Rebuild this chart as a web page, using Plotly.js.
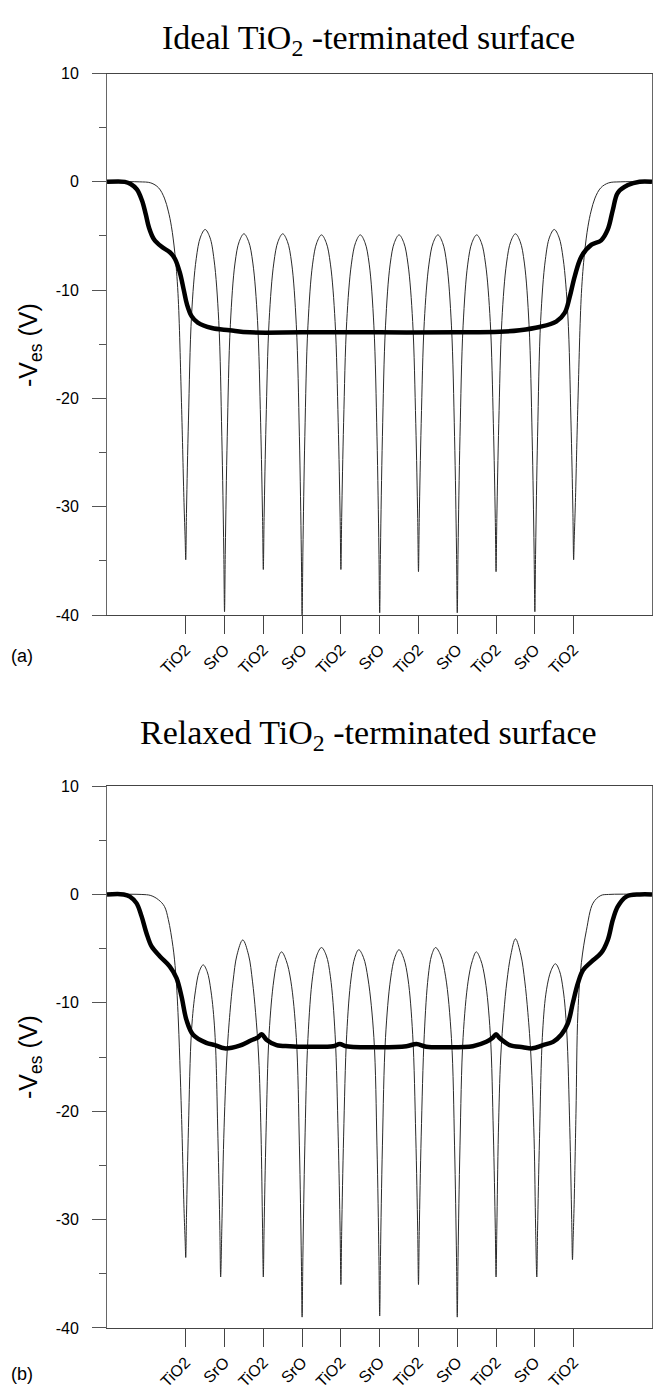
<!DOCTYPE html>
<html>
<head>
<meta charset="utf-8">
<script src="https://cdn.plot.ly/plotly-3.0.1.min.js"></script>
<style>html,body{margin:0;padding:0;background:#fff;}</style>
</head>
<body>
<div id="chart" style="width:663px;height:1393px;"></div>
<script>
// ---- Layer tick positions and labels ----
const layerPos = [0,1,2,3,4,5,6,7,8,9,10];
const layerLabels = ['TiO2','SrO','TiO2','SrO','TiO2','SrO','TiO2','SrO','TiO2','SrO','TiO2'];
const yTickVals = [10,0,-10,-20,-30,-40];
const yTickText = ['10','0','-10','-20','-30','-40'];
const yMinorVals = [5,-5,-15,-25,-35];

// ---- (a) Ideal surface: thin curve (3D potential through atoms) ----
const idealThinX = [
 -2.03,-1.2,-0.9,-0.7,-0.55,-0.45,-0.37,-0.28,-0.2,-0.11,-0.045,-0.015,0,
 0.02,0.07,0.15,0.27,0.38,0.5,0.62,0.73,0.85,0.93,0.98,1,
 1.02,1.07,1.15,1.27,1.38,1.5,1.62,1.73,1.85,1.93,1.98,2,
 2.02,2.07,2.15,2.27,2.38,2.5,2.62,2.73,2.85,2.93,2.98,3,
 3.02,3.07,3.15,3.27,3.38,3.5,3.62,3.73,3.85,3.93,3.98,4,
 4.02,4.07,4.15,4.27,4.38,4.5,4.62,4.73,4.85,4.93,4.98,5,
 5.02,5.07,5.15,5.27,5.38,5.5,5.62,5.73,5.85,5.93,5.98,6,
 6.02,6.07,6.15,6.27,6.38,6.5,6.62,6.73,6.85,6.93,6.98,7,
 7.02,7.07,7.15,7.27,7.38,7.5,7.62,7.73,7.85,7.93,7.98,8,
 8.02,8.07,8.15,8.27,8.38,8.5,8.62,8.73,8.85,8.93,8.98,9,
 9.02,9.07,9.15,9.27,9.38,9.5,9.62,9.73,9.85,9.93,9.98,10,
 10.015,10.045,10.11,10.2,10.28,10.37,10.45,10.55,10.7,10.9,11.2,12.02
];
const idealThinY = [
 0,0,-0.1,-0.55,-1.5,-2.7,-4.1,-6.6,-10.3,-20.4,-29.6,-33,-34.9,
 -30.3,-22,-12.3,-7.1,-5.1,-4.4,-5.1,-7.2,-12.8,-23.5,-34,-39.7,
 -34,-23.5,-13.2,-7.5,-5.5,-4.8,-5.5,-7.5,-12.8,-22.2,-31,-35.8,
 -31,-22.2,-12.8,-7.5,-5.5,-4.8,-5.5,-7.5,-13.2,-23.5,-34.2,-40.0,
 -34.2,-23.5,-13.3,-7.6,-5.6,-4.9,-5.6,-7.6,-12.9,-22.2,-31,-35.8,
 -31,-22.2,-12.9,-7.6,-5.6,-4.9,-5.6,-7.6,-13.3,-23.5,-34,-39.8,
 -34,-23.5,-13.3,-7.6,-5.6,-4.9,-5.6,-7.6,-12.9,-22.3,-31.1,-36.0,
 -31.1,-22.3,-12.9,-7.6,-5.6,-4.9,-5.6,-7.6,-13.3,-23.5,-34,-39.8,
 -34,-23.5,-13.3,-7.6,-5.6,-4.9,-5.6,-7.6,-12.9,-22.3,-31.1,-36.0,
 -31.1,-22.3,-12.8,-7.5,-5.5,-4.8,-5.5,-7.5,-13.2,-23.5,-34,-39.7,
 -34,-23.5,-12.8,-7.2,-5.1,-4.4,-5.1,-7.1,-12.3,-22,-30.3,-34.9,
 -33,-29.6,-20.4,-10.3,-6.6,-4.1,-2.7,-1.5,-0.55,-0.1,0,0
];

// ---- (a) Ideal surface: thick curve (planar average) ----
const idealThickX = [-2.03,-1.57,-1.42,-1.26,-1.13,-1.03,-0.95,-0.82,-0.62,-0.41,-0.28,-0.15,-0.05,0.03,0.15,0.31,0.67,1.13,1.65,3,5,7,8.1,8.61,9.12,9.55,9.77,9.9,10.03,10.2,10.46,10.71,10.88,11.01,11.14,11.4,11.7,12.02];
const idealThickY = [0,0,-0.2,-0.7,-1.7,-3.0,-4.2,-5.3,-6.0,-6.5,-7.1,-8.4,-10.0,-11.3,-12.4,-13.0,-13.5,-13.7,-13.9,-13.9,-13.9,-13.9,-13.85,-13.7,-13.4,-12.9,-12.1,-10.6,-8.7,-6.9,-5.8,-5.4,-4.4,-2.6,-1.0,-0.3,0,0];

// ---- (b) Relaxed surface: thin curve ----
const relaxThinX = [
 -2.03,-1.15,-0.9,-0.7,-0.55,-0.45,-0.33,-0.26,-0.2,-0.11,-0.045,-0.015,0,
 0.02,0.07,0.15,0.25,0.35,0.45,0.55,0.65,0.75,0.83,0.88,0.9,
 0.93,0.98,1.06,1.14,1.22,1.32,1.47,1.62,1.72,1.8,1.88,1.94,1.98,2,
 2.02,2.07,2.15,2.27,2.37,2.47,2.59,2.71,2.85,2.93,2.98,3,
 3.02,3.07,3.15,3.27,3.38,3.5,3.62,3.73,3.85,3.93,3.98,4,
 4.02,4.07,4.15,4.26,4.36,4.46,4.58,4.7,4.85,4.93,4.98,5,
 5.02,5.07,5.15,5.28,5.39,5.5,5.62,5.73,5.85,5.93,5.98,6,
 6.02,6.07,6.15,6.25,6.34,6.44,6.57,6.7,6.85,6.93,6.98,7,
 7.02,7.07,7.15,7.28,7.39,7.49,7.6,7.72,7.85,7.93,7.98,8,
 8.02,8.06,8.12,8.2,8.28,8.38,8.5,8.64,8.74,8.82,8.9,8.98,9.02,9.05,
 9.07,9.12,9.2,9.3,9.42,9.53,9.63,9.73,9.82,9.9,9.95,9.97,
 9.985,10.01,10.06,10.11,10.2,10.33,10.5,10.7,10.9,12.02
];
const relaxThinY = [
 0,0,-0.1,-0.5,-1.1,-2.3,-4.8,-7.2,-10.9,-20.2,-29,-32,-33.5,
 -29.5,-21.5,-12.5,-8.9,-7.1,-6.5,-7.1,-8.9,-12.7,-22.5,-31,-35.3,
 -30.8,-22.5,-15,-10.9,-8.0,-5.6,-4.2,-5.6,-8.0,-10.9,-15,-22,-30.8,-35.3,
 -30.8,-22,-12.8,-7.9,-6.0,-5.3,-6.1,-8.0,-13.2,-23.2,-33.5,-39.0,
 -33.5,-23.2,-13.3,-7.6,-5.6,-4.9,-5.6,-7.6,-12.9,-22.3,-31.1,-36.0,
 -31.1,-22.3,-12.9,-7.8,-5.8,-5.1,-5.8,-7.8,-13.2,-23.2,-33.4,-38.9,
 -33.4,-23.2,-13.2,-7.8,-5.8,-5.1,-5.9,-7.8,-12.9,-22.3,-31.1,-36.0,
 -31.1,-22.3,-12.9,-7.6,-5.6,-4.9,-5.6,-7.6,-13.3,-23.2,-33.5,-39.0,
 -33.5,-23.2,-13.2,-8.0,-6.1,-5.3,-6.0,-7.9,-12.8,-22,-30.8,-35.3,
 -30.8,-22,-15,-10.9,-8.0,-5.6,-4.1,-5.6,-8.0,-10.9,-15,-22.5,-30.8,-35.3,
 -31,-22.5,-12.7,-8.8,-7.0,-6.4,-7.0,-8.8,-12.5,-21.5,-30,-33.7,
 -32,-29,-20.2,-10.9,-6.3,-3.3,-0.8,-0.1,0,0
];

// ---- (b) Relaxed surface: thick curve ----
const relaxThickX = [-2.03,-1.6,-1.44,-1.27,-1.14,-1.01,-0.88,-0.67,-0.41,-0.24,-0.11,0.02,0.19,0.53,0.75,1.0,1.39,1.69,1.86,1.96,2.08,2.34,2.68,3.11,3.8,3.97,4.14,5.0,5.69,5.95,6.2,6.72,7.4,7.75,7.92,8.0,8.09,8.35,8.69,8.94,9.21,9.47,9.68,9.85,9.98,10.11,10.24,10.46,10.71,10.88,11.01,11.14,11.36,11.7,12.02];
const relaxThickY = [0,0,-0.2,-0.8,-2.0,-3.6,-4.8,-5.7,-6.65,-7.7,-9.4,-11.6,-12.95,-13.7,-13.9,-14.2,-13.95,-13.45,-13.2,-12.9,-13.4,-13.9,-14.0,-14.05,-14.0,-13.8,-14.0,-14.1,-14.0,-13.8,-14.05,-14.1,-14.0,-13.6,-13.2,-12.9,-13.25,-13.9,-14.1,-14.2,-13.9,-13.6,-12.95,-11.9,-10.0,-8.2,-7.0,-6.2,-5.4,-4.2,-2.35,-1.1,-0.2,0,0];

const panelTitles = ['Ideal TiO<sub>2</sub> -terminated surface','Relaxed TiO<sub>2</sub> -terminated surface'];
const panelLetters = ['(a)','(b)'];
const yTitle = '-V<sub>es</sub> (V)';

const SANS = 'Liberation Sans, Arial, sans-serif';
const SERIF = 'Liberation Serif, Times New Roman, serif';
const XR = [-2.03, 12.02];
const H = 1393, PLOTW = 545;

const thin = {color:'#2a2a2a', width:1, shape:'spline', smoothing:1};
const thick = {color:'#000', width:4.5, shape:'spline', smoothing:1};

const data = [
  {x:idealThinX, y:idealThinY, xaxis:'x', yaxis:'y', mode:'lines', line:thin, hoverinfo:'skip'},
  {x:idealThickX, y:idealThickY, xaxis:'x', yaxis:'y', mode:'lines', line:thick, hoverinfo:'skip'},
  {x:relaxThinX, y:relaxThinY, xaxis:'x3', yaxis:'y2', mode:'lines', line:thin, hoverinfo:'skip'},
  {x:relaxThickX, y:relaxThickY, xaxis:'x3', yaxis:'y2', mode:'lines', line:thick, hoverinfo:'skip'}
];

function bottomX(anchor){
  return {anchor:anchor, range:XR, tickmode:'array', tickvals:layerPos, ticktext:layerLabels,
    ticks:'outside', ticklen:18, tickwidth:1, tickcolor:'#444', tickangle:-45,
    tickfont:{family:SANS, size:16, color:'#000'},
    showline:true, linecolor:'#444', linewidth:1, mirror:true,
    showgrid:false, zeroline:false, fixedrange:true};
}
function topX(over, anchor){
  return {overlaying:over, anchor:anchor, side:'top', range:XR, tickmode:'array', tickvals:layerPos,
    ticks:'inside', ticklen:17, tickwidth:1, tickcolor:'#444', showticklabels:false,
    showline:true, linecolor:'#444', linewidth:1, showgrid:false, zeroline:false, fixedrange:true};
}
function yAx(anchor, dom){
  return {anchor:anchor, domain:dom, range:[-40,10], tickmode:'array', tickvals:yTickVals, ticktext:yTickText,
    ticks:'outside', ticklen:14, tickwidth:1, tickcolor:'#555', ticklabelstandoff:10,
    minor:{tickmode:'array', tickvals:yMinorVals, ticks:'outside', ticklen:7, tickcolor:'#555', showgrid:false},
    tickfont:{family:SANS, size:16, color:'#000'},
    showline:true, linecolor:'#666', linewidth:1, mirror:true,
    showgrid:false, zeroline:false, fixedrange:true};
}

const dom1 = [0.5585,0.9472], dom2 = [0.0467,0.4357];

const layout = {
  width:663, height:H,
  margin:{l:107, r:11, t:0, b:0},
  paper_bgcolor:'#fff', plot_bgcolor:'#fff',
  showlegend:false,
  xaxis: bottomX('y'),
  xaxis2: topX('x','y'),
  xaxis3: bottomX('y2'),
  xaxis4: topX('x3','y2'),
  yaxis: yAx('x',dom1),
  yaxis2: yAx('x3',dom2),
  annotations:[
    {text:panelTitles[0], xref:'paper', yref:'paper', x:0.48, y:1-40/H, xanchor:'center', yanchor:'middle', showarrow:false, font:{family:SERIF, size:34, color:'#000'}},
    {text:panelTitles[1], xref:'paper', yref:'paper', x:0.48, y:1-735/H, xanchor:'center', yanchor:'middle', showarrow:false, font:{family:SERIF, size:34, color:'#000'}},
    {text:yTitle, xref:'paper', yref:'paper', x:-77/PLOTW, y:1-345/H, xanchor:'center', yanchor:'middle', textangle:-90, showarrow:false, font:{family:SANS, size:25, color:'#000'}},
    {text:yTitle, xref:'paper', yref:'paper', x:-77/PLOTW, y:1-1057/H, xanchor:'center', yanchor:'middle', textangle:-90, showarrow:false, font:{family:SANS, size:25, color:'#000'}},
    {text:panelLetters[0], xref:'paper', yref:'paper', x:-98/PLOTW, y:1-656/H, xanchor:'left', yanchor:'middle', showarrow:false, font:{family:SANS, size:18, color:'#000'}},
    {text:panelLetters[1], xref:'paper', yref:'paper', x:-98/PLOTW, y:1-1374/H, xanchor:'left', yanchor:'middle', showarrow:false, font:{family:SANS, size:18, color:'#000'}}
  ]
};

Plotly.newPlot('chart', data, layout, {staticPlot:true, displayModeBar:false});
</script>
</body>
</html>
